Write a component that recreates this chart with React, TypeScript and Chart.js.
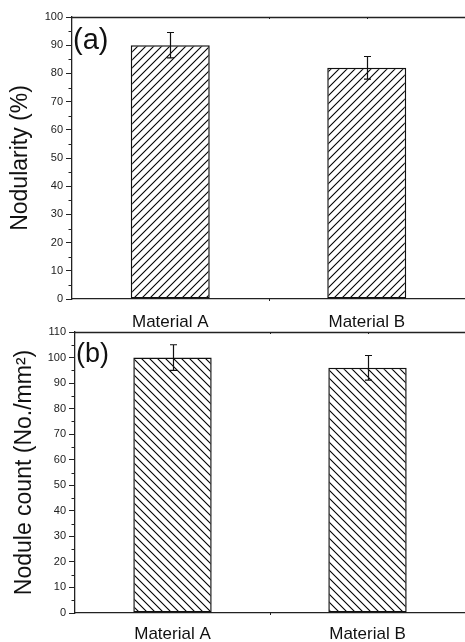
import React, { useEffect, useRef } from "react";
import { Chart, registerables } from "chart.js";

Chart.register(...registerables);

const categories = ["Material A", "Material B"];
const nodularity = [90, 82];
const nodularityErr = [4.5, 4];
const noduleCount = [100, 96];
const noduleCountErr = [5, 4.8];
const nodularityMax = 100;
const noduleCountMax = 110;
const tickStep = 10;

const FONT = "'Liberation Sans', Arial, sans-serif";

type PanelProps = {
  values: number[];
  errors: number[];
  max: number;
  yTitle: string;
  panelLabel: string;
  labelSize: number;
  hatchDir: 1 | -1;
  top: number;
  height: number;
  padTop: number;
  plotBottom: number;
  yWidth: number;
  titlePad: number;
  xPad: number;
};

function makeHatch(ctx: CanvasRenderingContext2D, dir: 1 | -1, size: number) {
  const c = document.createElement("canvas");
  c.width = size;
  c.height = size;
  const g = c.getContext("2d")!;
  g.fillStyle = "#ffffff";
  g.fillRect(0, 0, size, size);
  g.strokeStyle = "#000000";
  g.lineWidth = 1.1;
  g.beginPath();
  if (dir === 1) {
    g.moveTo(-1, size + 1);
    g.lineTo(size + 1, -1);
    g.moveTo(-1, 1);
    g.lineTo(1, -1);
    g.moveTo(size - 1, size + 1);
    g.lineTo(size + 1, size - 1);
  } else {
    g.moveTo(-1, -1);
    g.lineTo(size + 1, size + 1);
    g.moveTo(-1, size - 1);
    g.lineTo(1, size + 1);
    g.moveTo(size - 1, -1);
    g.lineTo(size + 1, 1);
  }
  g.stroke();
  return ctx.createPattern(c, "repeat")!;
}

function Panel(p: PanelProps) {
  const ref = useRef<HTMLCanvasElement | null>(null);
  useEffect(() => {
    const canvas = ref.current!;
    const ctx = canvas.getContext("2d")!;
    const pattern = makeHatch(ctx, p.hatchDir, 8);

    const decor = {
      id: "decor",
      afterDraw(chart: any) {
        const c = chart.ctx as CanvasRenderingContext2D;
        const area = chart.chartArea;
        const y = chart.scales.y;
        const x = chart.scales.x;
        c.save();
        c.strokeStyle = "#222";
        // top frame line
        c.lineWidth = 1.3;
        c.beginPath();
        c.moveTo(area.left, area.top + 0.5);
        c.lineTo(chart.width, area.top + 0.5);
        c.stroke();
        // minor y ticks
        c.lineWidth = 1;
        c.beginPath();
        for (let v = tickStep / 2; v < p.max; v += tickStep) {
          const py = Math.round(y.getPixelForValue(v)) + 0.5;
          c.moveTo(area.left - 3.5, py);
          c.lineTo(area.left, py);
        }
        // small x ticks at category boundary
        const bx = Math.round((x.getPixelForValue(0) + x.getPixelForValue(1)) / 2) + 0.5;
        c.moveTo(bx, area.bottom);
        c.lineTo(bx, area.bottom + 2);
        c.moveTo(bx, area.top);
        c.lineTo(bx, area.top + 2);
        const cx = Math.round(x.getPixelForValue(1)) + 0.5;
        c.moveTo(cx, area.top);
        c.lineTo(cx, area.top + 2);
        c.stroke();
        // error bars
        const meta = chart.getDatasetMeta(0);
        c.strokeStyle = "#111";
        c.lineWidth = 1.2;
        meta.data.forEach((bar: any, i: number) => {
          const v = p.values[i];
          const e = p.errors[i];
          const bxx = Math.round(bar.x) + 0.5;
          const yt = y.getPixelForValue(v + e);
          const yb = y.getPixelForValue(v - e);
          c.beginPath();
          c.moveTo(bxx, yt);
          c.lineTo(bxx, yb);
          c.moveTo(bxx - 3.5, yt);
          c.lineTo(bxx + 3.5, yt);
          c.moveTo(bxx - 3.5, yb);
          c.lineTo(bxx + 3.5, yb);
          c.stroke();
        });
        // panel label
        c.fillStyle = "#111";
        c.font = `${p.labelSize}px ${FONT}`;
        c.textBaseline = "alphabetic";
        c.textAlign = "left";
        c.fillText(p.panelLabel, area.left + 1, area.top + p.labelSize * 1.1);
        c.restore();
      },
    };

    const chart = new Chart(canvas, {
      type: "bar",
      data: {
        labels: categories,
        datasets: [
          {
            data: p.values,
            backgroundColor: pattern as any,
            borderColor: "#111",
            borderWidth: 1.5,
            borderSkipped: false,
            barPercentage: 0.402,
            categoryPercentage: 1,
          },
        ],
      },
      options: {
        responsive: false,
        animation: false,
        devicePixelRatio: 1,
        layout: { padding: { top: p.padTop, left: 0, right: 0, bottom: 0 } },
        plugins: {
          legend: { display: false },
          tooltip: { enabled: false },
          title: { display: false },
        },
        scales: {
          x: {
            grid: { display: false, drawTicks: false },
            border: { display: true, color: "#222", width: 1.3 },
            ticks: {
              font: { family: FONT, size: 17 },
              color: "#111",
              padding: p.xPad,
              maxRotation: 0,
            },
            afterFit: (s: any) => {
              s.height = p.height - p.plotBottom;
            },
          },
          y: {
            min: 0,
            max: p.max,
            ticks: {
              stepSize: tickStep,
              font: { family: FONT, size: 11 },
              color: "#222",
              padding: 3,
            },
            grid: {
              drawOnChartArea: false,
              drawTicks: true,
              tickLength: 6,
              color: "#222",
              lineWidth: 1,
            },
            border: { display: true, color: "#222", width: 1.3 },
            title: {
              display: true,
              text: p.yTitle,
              font: { family: FONT, size: 23 },
              color: "#111",
              padding: { top: p.titlePad, bottom: 0 },
            },
            afterFit: (s: any) => {
              s.width = p.yWidth;
            },
          },
        },
      },
      plugins: [decor],
    } as any);
    return () => chart.destroy();
  }, []);
  return (
    <canvas
      ref={ref}
      width={465}
      height={p.height}
      style={{ position: "absolute", left: 0, top: p.top, width: 465, height: p.height }}
    />
  );
}

export default function App() {
  return (
    <div style={{ position: "absolute", left: 0, top: 0, width: 465, height: 642, background: "#fff" }}>
      <Panel
        values={nodularity}
        errors={nodularityErr}
        max={nodularityMax}
        yTitle="Nodularity (%)"
        panelLabel="(a)"
        labelSize={29}
        hatchDir={1}
        top={0}
        height={340}
        padTop={17}
        plotBottom={299}
        yWidth={72}
        titlePad={7}
        xPad={13}
      />
      <Panel
        values={noduleCount}
        errors={noduleCountErr}
        max={noduleCountMax}
        yTitle="Nodule count (No./mm²)"
        panelLabel="(b)"
        labelSize={27}
        hatchDir={-1}
        top={321}
        height={321}
        padTop={11}
        plotBottom={292}
        yWidth={75}
        titlePad={11}
        xPad={11}
      />
    </div>
  );
}
